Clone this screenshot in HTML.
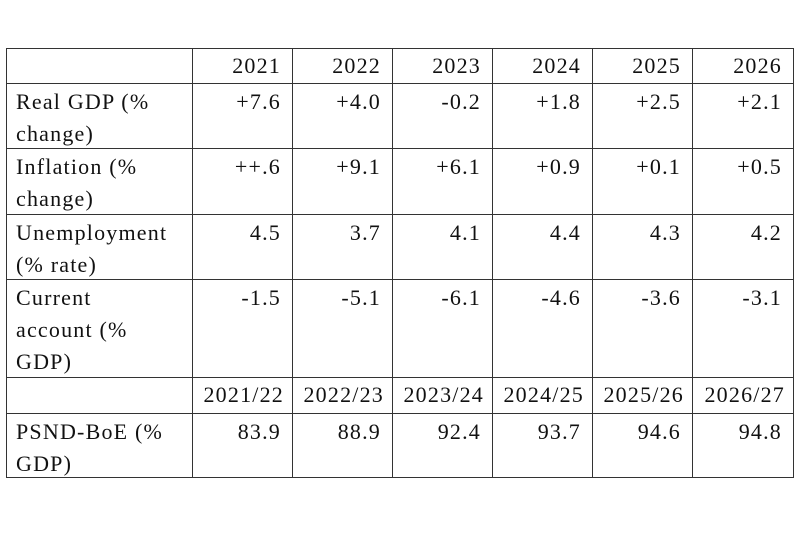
<!DOCTYPE html>
<html><head><meta charset="utf-8"><style>
body{margin:0;width:800px;height:533px;background:#fff;position:relative;overflow:hidden;font-family:"Liberation Serif",serif;color:#111}
.v{position:absolute;width:1px;background:#333}
.h{position:absolute;height:1px;background:#333}
.c{position:absolute;font-size:22px;line-height:32px;letter-spacing:1.2px;white-space:nowrap}
.r{text-align:right}
</style></head><body>
<div id="t"></div>
<script>
const cols=[6,192,292,392,492,592,692,793];
const rows=[48,83,148,214,279,377,413,477];
const years=["2021","2022","2023","2024","2025","2026"];
const fyears=["2021/22","2022/23","2023/24","2024/25","2025/26","2026/27"];
const labels=[["Real GDP (%","change)"],["Inflation (%","change)"],["Unemployment","(% rate)"],["Current","account (%","GDP)"]];
const gdp=["+7.6","+4.0","-0.2","+1.8","+2.5","+2.1"];
const infl=["++.6","+9.1","+6.1","+0.9","+0.1","+0.5"];
const unemp=["4.5","3.7","4.1","4.4","4.3","4.2"];
const cur=["-1.5","-5.1","-6.1","-4.6","-3.6","-3.1"];
const psnd=["83.9","88.9","92.4","93.7","94.6","94.8"];
const t=document.getElementById('t');
function add(cls,style,txt,name){const d=document.createElement('div');d.className=cls;d.style.cssText=style;if(txt!==undefined)d.innerHTML=txt;


t.appendChild(d);}
cols.forEach((x,i)=>add('v',`left:${x}px;top:48px;height:430px`,undefined,'column-border-'+i));
rows.forEach((y,i)=>add('h',`top:${y}px;left:6px;width:788px`,undefined,'row-border-'+i));
const body=[[years,null,0],[gdp,labels[0],1],[infl,labels[1],2],[unemp,labels[2],3],[cur,labels[3],4],[fyears,null,5],[psnd,["PSND-BoE (%","GDP)"],6]];
body.forEach(([vals,lab,ri])=>{
 const top=rows[ri]+(ri===0||ri===5?2:3);
 if(lab)add('c',`left:16px;top:${top}px`,lab.join('<br>'),'row-label-'+ri);
 vals.forEach((v,ci)=>{const cen=(ri===5);
  const l=cols[ci+1],w=cols[ci+2]-cols[ci+1];
  add('c r',`left:${l}px;width:${w-(cen?8:11)}px;top:${top}px`,v,'cell-'+ri+'-'+ci);});
});
</script>
</body></html>
